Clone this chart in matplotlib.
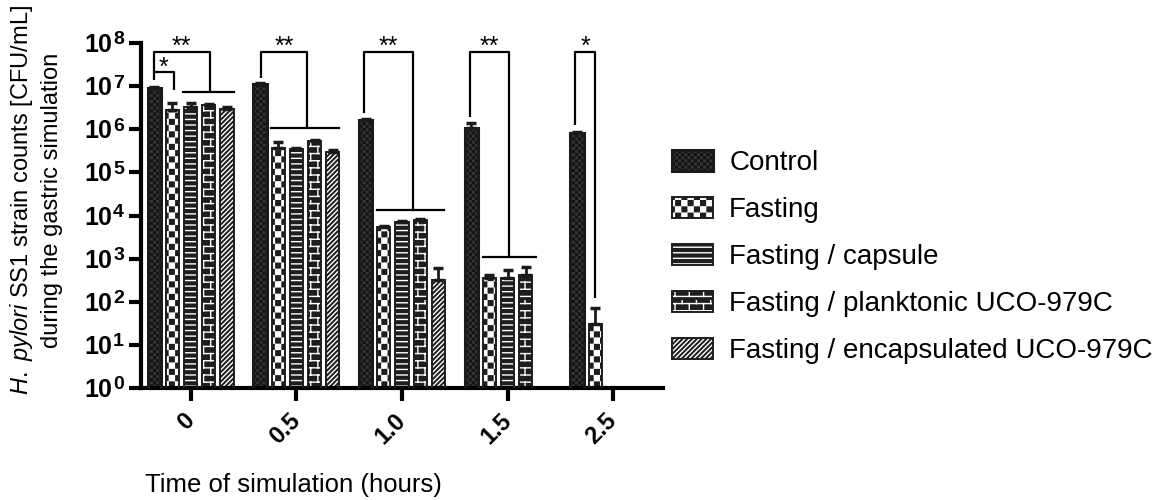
import warnings
import numpy as np
import matplotlib
matplotlib.use('Agg')
import matplotlib.pyplot as plt
import matplotlib.patches as mpatches
import matplotlib.hatch as mhatch
import matplotlib.transforms as mtransforms
from matplotlib.path import Path
from matplotlib.legend_handler import HandlerTuple

warnings.filterwarnings('ignore')

plt.rcParams['font.family'] = ['Liberation Sans', 'DejaVu Sans']
plt.rcParams['mathtext.fontset'] = 'custom'
plt.rcParams['mathtext.rm'] = 'Liberation Sans'
plt.rcParams['mathtext.it'] = 'Liberation Sans:italic'
plt.rcParams['mathtext.bf'] = 'Liberation Sans:bold'
plt.rcParams['hatch.linewidth'] = 1.0


# --- extra hatch patterns: 'c' = checkerboard, 'b' = brick wall ---
class CheckerHatch(mhatch.HatchPatternBase):
    def __init__(self, hatch, density):
        self.n = 4 * hatch.count('c')
        self.num_vertices = 5 * (self.n * self.n // 2)

    def set_vertices_and_codes(self, vertices, codes):
        n = self.n
        inset = 0.006
        k = 0
        for i in range(n):
            for j in range(n):
                if (i + j) % 2:
                    continue
                x0, y0 = i / n + inset, j / n + inset
                x1, y1 = (i + 1) / n - inset, (j + 1) / n - inset
                vertices[k:k + 5] = [(x0, y0), (x1, y0), (x1, y1), (x0, y1), (x0, y0)]
                codes[k:k + 5] = [Path.MOVETO, Path.LINETO, Path.LINETO,
                                  Path.LINETO, Path.CLOSEPOLY]
                k += 5


class BrickHatch(mhatch.HatchPatternBase):
    def __init__(self, hatch, density):
        self.rows = 14 * hatch.count('b')
        self.num_vertices = 2 * self.rows + self.rows * self.rows

    def set_vertices_and_codes(self, vertices, codes):
        R = self.rows
        k = 0
        for r in range(R):
            y = (r + 0.5) / R
            vertices[k:k + 2] = [(0, y), (1, y)]
            codes[k:k + 2] = [Path.MOVETO, Path.LINETO]
            k += 2
            for b in range(R // 2):
                x = b * 2 / R + (r % 2) / R + 0.5 / R
                vertices[k:k + 2] = [(x, y), (x, y + 1 / R)]
                codes[k:k + 2] = [Path.MOVETO, Path.LINETO]
                k += 2


mhatch._hatch_types.append(CheckerHatch)
mhatch._hatch_types.append(BrickHatch)

# --- data ---
times = ['0', '0.5', '1.0', '1.5', '2.5']
groups = ['Control', 'Fasting', 'Fasting / capsule',
          'Fasting / planktonic UCO-979C', 'Fasting / encapsulated UCO-979C']

control = [9.1e6, 1.12e7, 1.6e6, 1.07e6, 8.2e5]
control_up = [9.6e6, 1.2e7, 1.7e6, 1.4e6, 8.6e5]
fasting = [2.8e6, 3.7e5, 5.5e3, 3.6e2, 30]
fasting_up = [4.0e6, 5.1e5, 5.8e3, 4.2e2, 72]
capsule = [3.3e6, 3.5e5, 7.0e3, 3.6e2, np.nan]
capsule_up = [4.0e6, 3.7e5, 7.5e3, 5.5e2, np.nan]
planktonic = [3.6e6, 5.4e5, 7.9e3, 4.2e2, np.nan]
planktonic_up = [3.9e6, 5.7e5, 8.5e3, 6.5e2, np.nan]
encapsulated = [3.0e6, 3.0e5, 3.2e2, np.nan, np.nan]
encapsulated_up = [3.2e6, 3.3e5, 6.0e2, np.nan, np.nan]

means = [control, fasting, capsule, planktonic, encapsulated]
uppers = [control_up, fasting_up, capsule_up, planktonic_up, encapsulated_up]

# significance brackets: (group, x_left, x_right, log_top, log_left_end, log_right_end, label)
brackets = [
    (0, -0.35, 0.18, 7.80, 7.33, 6.87, '**'),
    (0, -0.35, -0.16, 7.33, 7.15, 6.91, '*'),
    (1, -0.33, 0.10, 7.80, 7.19, 6.03, '**'),
    (2, -0.36, 0.10, 7.80, 6.38, 4.13, '**'),
    (3, -0.36, 0.01, 7.80, 6.29, 3.04, '**'),
    (4, -0.36, -0.17, 7.80, 6.10, 2.09, '*'),
]
# horizontal lines over the compared groups: (group, x0, x1, log_y)
group_lines = [
    (0, -0.07, 0.41, 6.87),
    (1, -0.24, 0.40, 6.03),
    (2, -0.24, 0.40, 4.13),
    (3, -0.23, 0.27, 3.04),
]

# style per series: face, hatch colour, hatch, outline
styles = [
    ('#363636', '#141414', 'cccccccc', '#1a1a1a'),
    ('#1e1e1e', 'white', 'cccc', '#1e1e1e'),
    ('#1e1e1e', 'white', '---', '#1e1e1e'),
    ('#1e1e1e', 'white', 'b', '#1e1e1e'),
    ('#1e1e1e', 'white', '///////', '#1e1e1e'),
]

fig = plt.figure(figsize=(11.69, 5.0), dpi=100)
ax = fig.add_axes([141 / 1169, 1 - 388 / 500, 522 / 1169, 345 / 500])
ax.set_yscale('log')

x = np.arange(len(times))
slot = 0.172
width = 0.125

handles = []
for i, (name, m, up) in enumerate(zip(groups, means, uppers)):
    m = np.array(m, dtype=float)
    up = np.array(up, dtype=float)
    ok = ~np.isnan(m)
    xs = x[ok] + (i - 2) * slot
    face, hcol, hatch, edge = styles[i]
    lw = 2.2 if i == 0 else 1.4
    ax.bar(xs, m[ok], width, color=face, edgecolor=hcol, linewidth=0,
           hatch=hatch, zorder=2)
    ax.bar(xs, m[ok], width, fill=False, edgecolor=edge, linewidth=lw, zorder=3)
    ax.errorbar(xs, m[ok], yerr=[np.zeros(ok.sum()), up[ok] - m[ok]], fmt='none',
                ecolor='#1a1a1a', elinewidth=2, capsize=3.5, capthick=2.5, zorder=4)
    h1 = mpatches.Patch(facecolor=face, edgecolor=hcol, linewidth=0, hatch=hatch)
    h2 = mpatches.Patch(fill=False, edgecolor=edge, linewidth=lw)
    handles.append((h1, h2))

for g, xl, xr, top, le, re_, lab in brackets:
    ax.plot([g + xl, g + xl, g + xr, g + xr],
            [10 ** le, 10 ** top, 10 ** top, 10 ** re_],
            color='black', lw=1.6, solid_capstyle='butt', zorder=5, clip_on=False)
    ax.text(g + (xl + xr) / 2, 10 ** (top + 0.1), lab, ha='center', va='center',
            fontsize=18, zorder=5)

for g, x0, x1, y in group_lines:
    ax.plot([g + x0, g + x1], [10 ** y, 10 ** y], color='black', lw=1.6, zorder=5)

ax.set_ylim(1, 1e8)
ax.set_xlim(-0.47, 4.47)
ax.minorticks_off()
decades = list(range(9))
ax.set_yticks([10 ** k for k in decades])
ax.set_yticklabels([])
# "10" with a large exponent, as in the original figure
ytrans = mtransforms.blended_transform_factory(ax.transAxes, ax.transData)
for k in decades:
    ax.annotate('10', (0, 10 ** k), xycoords=ytrans, xytext=(-20.5, -1.5),
                textcoords='offset points', ha='right', va='center',
                fontsize=18, fontweight='bold', annotation_clip=False)
    ax.annotate(str(k), (0, 10 ** k), xycoords=ytrans, xytext=(-20, -1),
                textcoords='offset points', ha='left', va='baseline',
                fontsize=14, fontweight='bold', annotation_clip=False)

ax.set_xticks(x)
ax.set_xticklabels(times, rotation=45, ha='right', va='center',
                   rotation_mode='anchor', fontsize=17, fontweight='bold')

for side in ['top', 'right']:
    ax.spines[side].set_visible(False)
for side in ['left', 'bottom']:
    ax.spines[side].set_linewidth(3)
ax.tick_params(axis='both', direction='out', length=9, width=3)
ax.tick_params(axis='x', pad=12)

fig.text(0.03, 0.60,
         '$\\it{H.\\ pylori}$ SS1 strain counts [CFU/mL]\nduring the gastric simulation',
         rotation=90, ha='center', va='center', multialignment='center',
         fontsize=17, linespacing=1.35)
fig.text(0.251, 0.03, 'Time of simulation (hours)', ha='center', va='center',
         fontsize=18.5)

fig.legend(handles, groups, handler_map={tuple: HandlerTuple(ndivide=1)},
           loc='center left', bbox_to_anchor=(672 / 1169, 1 - 257 / 500),
           frameon=False, fontsize=20, handlelength=1.46, handleheight=0.8,
           handletextpad=0.6, labelspacing=0.74, borderpad=0, borderaxespad=0)

fig.savefig('out.png', dpi=100)
